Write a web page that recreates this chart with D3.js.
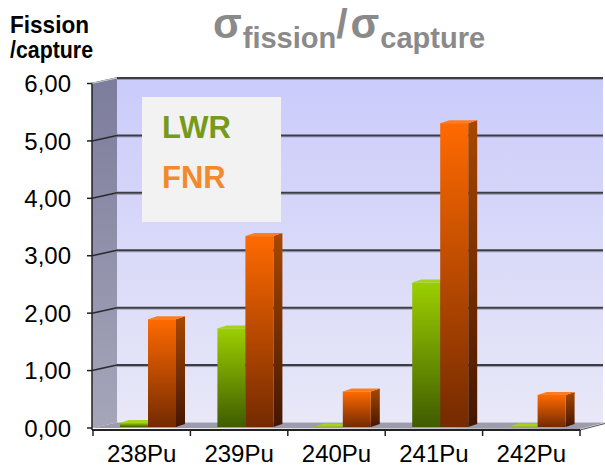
<!DOCTYPE html>
<html><head><meta charset="utf-8">
<script src="https://cdn.jsdelivr.net/npm/d3@7"></script>
<style>html,body{margin:0;padding:0;background:#fff;}svg{display:block;font-family:"Liberation Sans",Arial,sans-serif;}</style>
</head><body>
<svg id="c" width="605" height="468"></svg>
<script>
const categories = ["238Pu","239Pu","240Pu","241Pu","242Pu"];
const seriesNames = ["LWR","FNR"];
const lwrValues = [0.07, 1.72, 0.01, 2.52, 0.01];
const fnrValues = [1.88, 3.33, 0.62, 5.30, 0.56];
const yTickValues = [0,1,2,3,4,5,6];

const svg = d3.select("#c");
const defs = svg.append("defs");
function vgrad(id, c0, c1){
  const g = defs.append("linearGradient").attr("id", id).attr("x1",0).attr("y1",0).attr("x2",0).attr("y2",1);
  g.append("stop").attr("offset","0%").attr("stop-color",c0);
  g.append("stop").attr("offset","100%").attr("stop-color",c1);
}
vgrad("wall","#cbcbfb","#e8e8f8");
vgrad("side","#7c7c9c","#a6a6ba");
vgrad("gFront","#9ccf00","#3f5c00");
vgrad("oFront","#ff6a00","#742a00");
vgrad("oSide","#a84800","#441600");
vgrad("gSide","#6a8c00","#2c4000");

// geometry
const dx = 25, dy = -5.5;             // wall depth offset
const bdx = 9, bdy = -3;              // bar depth offset
const left = 92, right = 580;
const y = d3.scaleLinear().domain([0,6]).range([428, 83.5]);
const yb = d3.scaleLinear().domain([0,6]).range([427, 83]);
const x0 = d3.scaleBand().domain(categories).range([93, right]).padding(0);
const x1 = d3.scaleBand().domain(seriesNames).range([27, 83]).padding(0);
const fmt = d3.formatLocale({decimal:",", thousands:".", grouping:[3], currency:["","€"]}).format(".2f");

// back wall
svg.append("rect").attr("x", left+dx).attr("y", y(6)+dy).attr("width", 603-(left+dx)).attr("height", y(0)-y(6))
  .attr("fill","url(#wall)");
// side wall
svg.append("path").attr("d", `M${left},${y(6)} L${left+dx},${y(6)+dy} L${left+dx},${y(0)+dy} L${left},${y(0)} Z`)
  .attr("fill","url(#side)");
// floor
svg.append("path").attr("d", `M${left},${y(0)} L${left+dx},${y(0)+dy} L${right+dx},${y(0)+dy} L${right},${y(0)+1} Z`)
  .attr("fill","#9c9cac");

// gridlines
yTickValues.forEach(v=>{
  if (v===0) return;
  const yy = y(v)+dy;
  svg.append("line").attr("x1",left+dx).attr("x2",603).attr("y1",yy+1.5).attr("y2",yy+1.5).attr("stroke","#9a9ab0").attr("stroke-width",1);
  svg.append("line").attr("x1",left+dx).attr("x2",603).attr("y1",yy).attr("y2",yy).attr("stroke","#3c3c44").attr("stroke-width",2);
  svg.append("line").attr("x1",left).attr("x2",left+dx).attr("y1",y(v)).attr("y2",yy).attr("stroke","#2a2a30").attr("stroke-width",1.6);
});
// side wall top edge
svg.append("line").attr("x1",left).attr("x2",left+dx).attr("y1",y(6)).attr("y2",y(6)+dy).attr("stroke","#c0c0d0").attr("stroke-width",1.5);
// front y axis line
svg.append("line").attr("x1",left).attr("x2",left).attr("y1",y(6)).attr("y2",y(0)+2).attr("stroke","#222").attr("stroke-width",1.5);
// y ticks & labels
yTickValues.forEach(v=>{
  svg.append("line").attr("x1",left-5).attr("x2",left).attr("y1",y(v)).attr("y2",y(v)).attr("stroke","#222").attr("stroke-width",1.5);
  svg.append("text").attr("x",71).attr("y",y(v)).attr("dy","0.36em").attr("text-anchor","end")
    .attr("font-size",24).attr("fill","#000").text(fmt(v));
});

// legend
svg.append("rect").attr("x",142).attr("y",97).attr("width",139).attr("height",125).attr("fill","#f2f2f2");
svg.append("text").attr("x",162).attr("y",138).attr("font-size",31).attr("font-weight","bold").attr("fill","#779a1b").text("LWR");
svg.append("text").attr("x",162).attr("y",188).attr("font-size",31).attr("font-weight","bold").attr("fill","#f28a2c").text("FNR");

// bars
const data = categories.map((c,i)=>({cat:c, vals:[{s:"LWR",v:lwrValues[i]},{s:"FNR",v:fnrValues[i]}]}));
const fills = {LWR:{front:"url(#gFront)", side:"url(#gSide)", top:"#a6d21c"}, FNR:{front:"url(#oFront)", side:"url(#oSide)", top:"#ff7d22"}};
data.forEach(d=>{
  d.vals.forEach(b=>{
    const xa = x0(d.cat) + x1(b.s), w = x1.bandwidth();
    const yt = yb(b.v), ybase = yb(0);
    const g = svg.append("g");
    g.append("path").attr("d", `M${xa+w},${yt} L${xa+w+bdx},${yt+bdy} L${xa+w+bdx},${ybase+bdy} L${xa+w},${ybase} Z`).attr("fill", fills[b.s].side);
    g.append("path").attr("d", `M${xa},${yt} L${xa+bdx},${yt+bdy} L${xa+w+bdx},${yt+bdy} L${xa+w},${yt} Z`).attr("fill", fills[b.s].top);
    g.append("rect").attr("x",xa).attr("y",yt).attr("width",w).attr("height",Math.max(0.5,ybase-yt)).attr("fill",fills[b.s].front);
  });
});

// x axis front line and ticks
svg.append("line").attr("x1",left).attr("x2",right).attr("y1",430).attr("y2",430).attr("stroke","#222").attr("stroke-width",1.8);
svg.append("line").attr("x1",right).attr("x2",right+dx).attr("y1",430).attr("y2",430+dy-1).attr("stroke","#555").attr("stroke-width",1.2);
const bounds = categories.map(c=>x0(c)).concat([right]);
bounds.forEach(bx=>{
  svg.append("line").attr("x1",bx).attr("x2",bx).attr("y1",430).attr("y2",436).attr("stroke","#222").attr("stroke-width",1.5);
});
categories.forEach(c=>{
  svg.append("text").attr("x",x0(c)+x0.bandwidth()/2).attr("y",462).attr("text-anchor","middle")
    .attr("font-size",24).attr("fill","#000").text(c);
});

// axis title
svg.append("text").attr("x",10).attr("y",33).attr("font-size",24).attr("font-weight","bold").attr("textLength",79).attr("lengthAdjust","spacingAndGlyphs").text("Fission");
svg.append("text").attr("x",10).attr("y",58).attr("font-size",24).attr("font-weight","bold").attr("textLength",83).attr("lengthAdjust","spacingAndGlyphs").text("/capture");

// chart title
const t = svg.append("text").attr("x",213).attr("y",38).attr("fill","#8a8a8a").attr("font-weight","bold");
t.append("tspan").attr("font-size",42).text("σ");
t.append("tspan").attr("font-size",29).attr("dy",10).attr("dx",1).text("fission");
t.append("tspan").attr("font-size",41).attr("dy",-10).text("/");
t.append("tspan").attr("font-size",42).attr("dx",3).text("σ");
t.append("tspan").attr("font-size",29).attr("dy",10).attr("dx",1).text("capture");
</script>
</body></html>
